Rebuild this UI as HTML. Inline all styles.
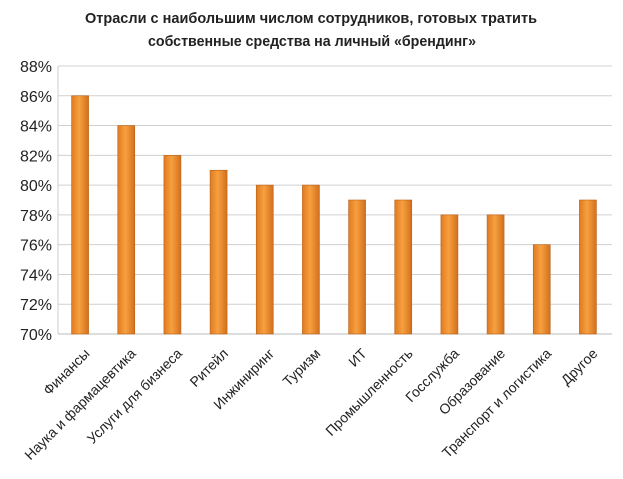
<!DOCTYPE html>
<html><head><meta charset="utf-8"><style>
html,body{margin:0;padding:0;background:#fff;}
svg{display:block;font-family:"Liberation Sans","DejaVu Sans",sans-serif;}
</style></head><body>
<svg id="chart" width="623" height="479">
<defs>
<linearGradient id="bg" x1="0" x2="1" y1="0" y2="0">
<stop offset="0" stop-color="#e07a20"/><stop offset="0.45" stop-color="#f7a040"/><stop offset="1" stop-color="#d2701c"/>
</linearGradient>
</defs>
<text x="311" y="23" text-anchor="middle" font-size="15" font-weight="bold" fill="#222" textLength="452" lengthAdjust="spacingAndGlyphs">Отрасли с наибольшим числом сотрудников, готовых тратить</text>
<text x="312" y="46" text-anchor="middle" font-size="15" font-weight="bold" fill="#222" textLength="328" lengthAdjust="spacingAndGlyphs">собственные средства на личный «брендинг»</text>
<g id="grid"></g><g id="bars"></g><g id="labels"></g>
</svg>
<script>
const categories=["Финансы","Наука и фармацевтика","Услуги для бизнеса","Ритейл","Инжиниринг","Туризм","ИТ","Промышленность","Госслужба","Образование","Транспорт и логистика","Другое"];
const values=[86,84,82,81,80,80,79,79,78,78,76,79];
const yTicks=[70,72,74,76,78,80,82,84,86,88];
const yMin=70,yMax=88;
const L=58,R=612,T=66,B=334;
const ns="http://www.w3.org/2000/svg";
const step=(R-L)/categories.length;
function y(v){return B-(v-yMin)/(yMax-yMin)*(B-T);}
function x(i){return L+step*(i+0.5)-1;}
function mk(t,a,p){const e=document.createElementNS(ns,t);for(const k in a)e.setAttribute(k,a[k]);p.appendChild(e);return e;}
const g=document.getElementById('grid'),bg=document.getElementById('bars'),lg=document.getElementById('labels');
yTicks.forEach(v=>{
 const ln=mk('line',{x1:L,x2:R,y1:y(v),y2:y(v),stroke:v===yMin?'#bbb':'#d0d0d0','stroke-width':1},g);
 
 
 const t=mk('text',{x:L-6,y:y(v)+6,'text-anchor':'end','font-size':16,fill:'#222'},g);
 t.textContent=v+'%';
 
 
});
mk('line',{x1:L,x2:L,y1:T,y2:B,stroke:'#ccc'},g);
categories.forEach((c,i)=>{
 const cx=x(i),w=17;
 const r=mk('rect',{x:cx-w/2,y:y(values[i]),width:w,height:B-y(values[i]),fill:'url(#bg)',stroke:'#b8621a','stroke-width':0.6},bg);
 
 
 const t=mk('text',{transform:'translate('+(cx+3)+',347) rotate(-45)','text-anchor':'end','font-size':14,fill:'#222',dy:'0.75em'},lg);
 t.textContent=c;
 
 
});
</script>
</body></html>
